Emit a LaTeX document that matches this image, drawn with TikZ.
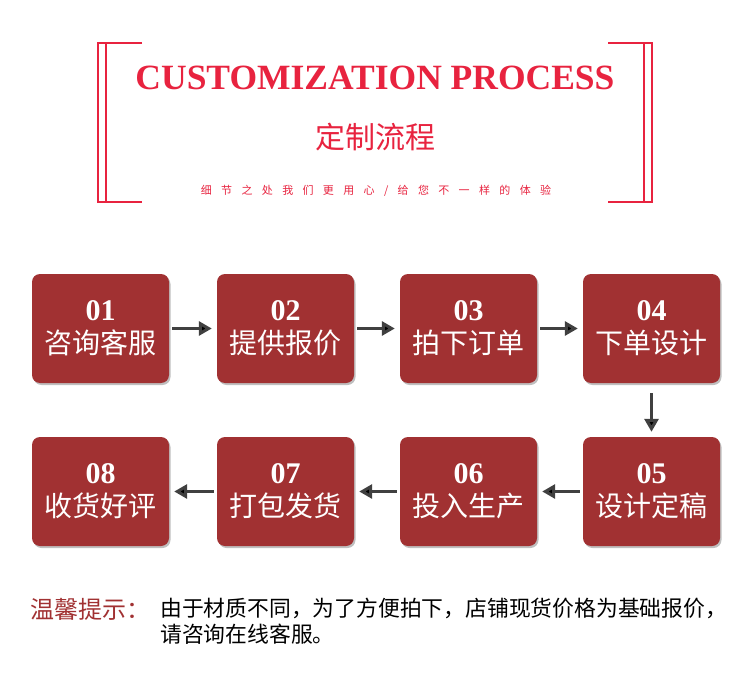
\documentclass[tikz,border=0pt]{standalone}
\usepackage{fontspec}
\setmainfont{Liberation Serif}
\newfontfamily\cjk{Noto Sans CJK SC}
\newfontfamily\cjkspaced[LetterSpace=85]{Noto Sans CJK SC}
\usetikzlibrary{shadows,arrows.meta}
\definecolor{titlered}{RGB}{232,35,63}
\definecolor{boxred}{RGB}{161,49,50}
\definecolor{arrowgray}{RGB}{64,64,64}
\newcommand{\stepnum}[1]{{\bfseries #1}}
\newcommand{\steptxt}[1]{{\cjk\fontsize{28}{33}\selectfont #1}}

\begin{document}
\begin{tikzpicture}[x=1pt,y=-1pt]
      \tikzset{stepbox/.style={fill=boxred, rounded corners=8pt, minimum width=137pt, minimum height=109pt,
          inner sep=0pt, align=center, text=white, font=\fontsize{30}{33}\selectfont,
          drop shadow={shadow xshift=1.5pt, shadow yshift=-2pt, opacity=0.25, fill=black}}}
      \tikzset{flow/.style={draw=arrowgray, line width=3pt, -{Triangle[length=13pt,width=14pt]},
          shorten <=3pt, shorten >=5pt}}
      \tikzset{frame/.style={draw=titlered, line width=1.1pt}}
      \useasboundingbox[fill=white] (0,0) rectangle (750,674);
%% Header
      	\draw[frame] (142,43) -- (98,43) -- (98,202) -- (142,202);
      	\draw[frame] (106,43) -- (106,202);
      	\draw[frame] (608,43) -- (652,43) -- (652,202) -- (608,202);
      	\draw[frame] (644,43) -- (644,202);
      	\node[text=titlered, font=\fontsize{35.5}{35.5}\selectfont\bfseries] (title) at (375,78) {CUSTOMIZATION PROCESS};
      	\node[text=titlered, font=\cjk\fontsize{30}{30}\selectfont] (subtitle) at (375,137) {定制流程};
      	\node[text=titlered, font=\cjkspaced\fontsize{11}{11}\selectfont] (motto) at (376,191) {细节之处我们更用心/给您不一样的体验};
%% Steps
      	\node[stepbox] (s1) at (100.5,328.5) {\stepnum{01}\\\steptxt{咨询客服}};
      	\node[stepbox] (s2) at (285.5,328.5) {\stepnum{02}\\\steptxt{提供报价}};
    	\node[stepbox] (s3) at (468.5,328.5) {\stepnum{03}\\\steptxt{拍下订单}};
  	    \node[stepbox] (s4) at (651.5,328.5) {\stepnum{04}\\\steptxt{下单设计}};
  	    \node[stepbox] (s5) at (651.5,491.5) {\stepnum{05}\\\steptxt{设计定稿}};
  	    \node[stepbox] (s6) at (468.5,491.5) {\stepnum{06}\\\steptxt{投入生产}};
  	    \node[stepbox] (s7) at (285.5,491.5) {\stepnum{07}\\\steptxt{打包发货}};
  	    \node[stepbox] (s8) at (100.5,491.5) {\stepnum{08}\\\steptxt{收货好评}};
%Arrows
		\path[flow] (s1) edge (s2);
		\path[flow] (s2) edge (s3);
		\path[flow] (s3) edge (s4);
		\path[flow] (s4) edge [shorten <=10pt] (s5);
		\path[flow] (s5) edge (s6);
		\path[flow] (s6) edge (s7);
		\path[flow] (s7) edge (s8);
%% Note
		\node[anchor=west, text=boxred, font=\cjk\fontsize{24}{24}\selectfont] (tip) at (27,609) {温馨提示：};
		\node[anchor=north west, align=left, inner sep=0pt, font=\cjk\fontsize{21.8}{26}\selectfont] (note) at (160,598)
		    {由于材质不同，为了方便拍下，店铺现货价格为基础报价，\\请咨询在线客服。};
	\end{tikzpicture}
\end{document}
